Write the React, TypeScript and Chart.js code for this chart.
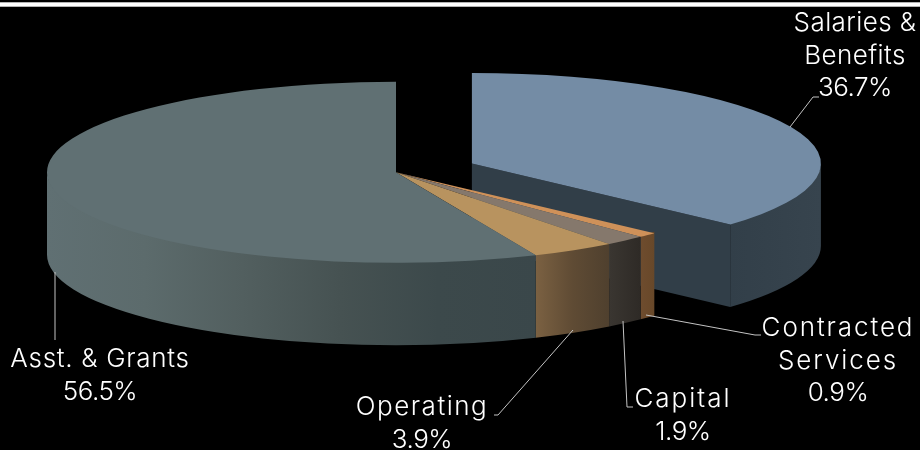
import React, { useEffect, useRef } from "react";
import { Chart, registerables } from "chart.js";

Chart.register(...registerables);

// Budget shares, clockwise from twelve o'clock
const categories = ["Salaries & Benefits", "Contracted Services", "Capital", "Operating", "Asst. & Grants"];
const shares = [36.7, 0.9, 1.9, 3.9, 56.5];
const nameLines = [["Salaries &", "Benefits"], ["Contracted", "Services"], ["Capital"], ["Operating"], ["Asst. & Grants"]];

const topColors = ["#748ca5", "#cf9159", "#85786c", "#b8935f", "#607073"];
const rimColors = [
  ["#323f49", "#37444e"],
  ["#6e4c2e", "#684829"],
  ["#3a3631", "#2e2a26"],
  ["#7b6142", "#5f4b34", "#4f402e"],
  ["#607073", "#5c6b6c", "#525f5f", "#465252", "#3c494b", "#3a474a"],
];
const wallColor = "#313e48";

// Tilted-disc projection
const RADIUS = 349;
const TILT = 90.5 / 349;
const DEPTH = 82.5;
const DISC_Y = 172.3;
const PULL_OUT = 83;

const FONT = '300 26px Inter, Lato, sans-serif';
const LINE_GAP = 32.5;

// Label placement: centre x, first baseline, tracking of the name lines, and the leader polyline
const labelLayout = [
  { x: 855, y: 31, tracking: 0.4, leader: [[790, 127], [813, 97], [819, 97]] },
  { x: 838, y: 336, tracking: 1.9, leader: [[646, 315], [755, 335], [761, 335]] },
  { x: 683, y: 407, tracking: 2, leader: [[623, 321], [627, 407], [633, 407]] },
  { x: 422, y: 415, tracking: 1.5, leader: [[573, 330], [498, 415], [494, 415]] },
  { x: 100, y: 367, tracking: 0.7, leader: [[55, 272], [55, 340]] },
];

const faceAngles = new WeakMap<object, { start: number; end: number }>();

const tiltedPie = {
  id: "tiltedPie",
  afterDatasetsUpdate(chart: any) {
    // Arc elements widen an offset slice and trim its angles; undo both so
    // every slice stays on one radius with true edges
    const meta = chart.getDatasetMeta(0);
    meta.data.forEach((arc: any) => {
      faceAngles.set(arc, { start: arc.startAngle, end: arc.endAngle });
      const offset = (arc.options.offset || 0) / 4;
      const widen = offset * (1 - Math.sin(Math.min(Math.PI, arc.circumference)));
      arc.outerRadius = RADIUS - widen;
      const trim = widen / (2 * Math.PI * RADIUS);
      arc.startAngle -= trim;
      arc.endAngle += trim;
    });
  },
  beforeDatasetsDraw(chart: any) {
    const { ctx } = chart;
    const meta = chart.getDatasetMeta(0);

    ctx.save();
    ctx.fillStyle = "#ffffff";
    ctx.fillRect(0, 2.3, chart.width, 4.4);
    ctx.restore();

    // Side walls, painted for the detached slice first so the rest overlaps it
    meta.data.forEach((arc: any, i: number) => {
      const { start, end } = faceAngles.get(arc)!;
      const offset = (arc.options.offset || 0) / 4;
      const half = (start + end) / 2;
      const cx = arc.x + Math.cos(half) * offset;
      const cy = DISC_Y + Math.sin(half) * offset * TILT;
      const a0 = Math.max(start, 0);
      const a1 = Math.min(end, Math.PI);
      const ry = RADIUS * TILT;

      if (offset > 0 && Math.cos(end) > 0) {
        const ex = cx + Math.cos(end) * RADIUS;
        const ey = cy + Math.sin(end) * ry;
        ctx.beginPath();
        ctx.moveTo(cx, cy);
        ctx.lineTo(ex, ey);
        ctx.lineTo(ex, ey + DEPTH);
        ctx.lineTo(cx, cy + DEPTH);
        ctx.closePath();
        ctx.fillStyle = wallColor;
        ctx.fill();
      }

      if (a1 > a0) {
        const xa = cx + Math.cos(a1) * RADIUS;
        const xb = cx + Math.cos(a0) * RADIUS;
        const grad = ctx.createLinearGradient(xa, 0, xb, 0);
        const stops = rimColors[i];
        stops.forEach((c: string, s: number) => grad.addColorStop(s / (stops.length - 1), c));
        // The upper edge runs slightly under the top face to avoid a seam
        ctx.beginPath();
        ctx.ellipse(cx, cy - 1.5, RADIUS, ry, 0, a0, a1);
        ctx.lineTo(cx + Math.cos(a1) * RADIUS, cy + Math.sin(a1) * ry + DEPTH);
        ctx.ellipse(cx, cy + DEPTH, RADIUS, ry, 0, a1, a0, true);
        ctx.closePath();
        ctx.fillStyle = grad;
        ctx.fill();
      }
    });

    // Top faces are squashed onto the tilted plane
    const centerY = meta.data[0].y;
    ctx.save();
    ctx.translate(0, DISC_Y);
    ctx.scale(1, TILT);
    ctx.translate(0, -centerY);
  },
  afterDatasetsDraw(chart: any) {
    const { ctx } = chart;
    ctx.restore();

    // Leader lines
    ctx.save();
    ctx.strokeStyle = "#c4c4c4";
    ctx.lineWidth = 1;
    labelLayout.forEach((l) => {
      ctx.beginPath();
      l.leader.forEach(([x, y], i) => (i ? ctx.lineTo(x, y) : ctx.moveTo(x, y)));
      ctx.stroke();
    });

    // Category names and shares
    ctx.fillStyle = "#ffffff";
    ctx.font = FONT;
    ctx.textAlign = "center";
    ctx.textBaseline = "alphabetic";
    labelLayout.forEach((l, i) => {
      (ctx as any).letterSpacing = `${l.tracking}px`;
      nameLines[i].forEach((t, n) => ctx.fillText(t, l.x, l.y + n * LINE_GAP));
      (ctx as any).letterSpacing = "-0.5px";
      ctx.fillText(`${shares[i].toFixed(1)}%`, l.x, l.y + nameLines[i].length * LINE_GAP);
    });
    ctx.restore();
  },
};

export default function App() {
  const ref = useRef<HTMLCanvasElement>(null);

  useEffect(() => {
    const chart = new Chart(ref.current!, {
      type: "pie",
      data: {
        labels: categories,
        datasets: [
          {
            data: shares,
            backgroundColor: topColors,
            borderWidth: 0,
            offset: [PULL_OUT * 4, 0, 0, 0, 0],
            clip: false,
          } as any,
        ],
      },
      options: {
        responsive: false,
        animation: false,
        events: [],
        radius: RADIUS,
        layout: { padding: { right: 128 } },
        plugins: { legend: { display: false }, tooltip: { enabled: false } },
      } as any,
      plugins: [tiltedPie],
    });
    return () => chart.destroy();
  }, []);

  return (
    <div style={{ position: "absolute", left: 0, top: 0, width: 920, height: 450, background: "#000", overflow: "hidden" }}>
      <canvas ref={ref} width={920} height={450} style={{ display: "block" }} />
    </div>
  );
}
